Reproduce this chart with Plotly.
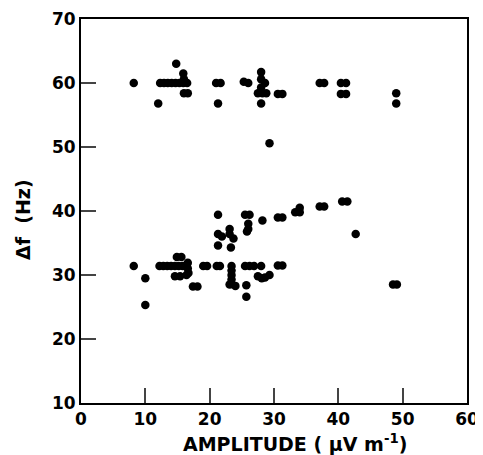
import plotly.graph_objects as go

# upper group, near 60 Hz
upper_amp = [8.2, 12.3, 12.9, 13.5, 14.1, 14.7, 15.3, 15.9, 16.5, 14.8, 15.9, 16.0,
             16.0, 16.6, 12.0, 21.0, 21.7, 21.3, 25.3, 26.0, 28.0, 28.0, 28.6, 27.5,
             28.2, 28.8, 28.0, 28.0, 30.6, 31.3, 29.3, 37.1, 37.8, 40.4, 41.2, 40.4,
             41.2, 49.0, 49.0]
upper_df = [60.0, 60.0, 60.0, 60.0, 60.0, 60.0, 60.0, 60.0, 60.0, 63.0, 61.5, 60.6,
            58.4, 58.4, 56.8, 60.0, 60.0, 56.8, 60.2, 60.0, 61.7, 60.6, 60.0, 58.4,
            58.4, 58.4, 59.3, 56.8, 58.3, 58.3, 50.6, 60.0, 60.0, 60.0, 60.0, 58.3,
            58.3, 58.4, 56.8]

# lower group, 25-42 Hz
lower_amp = [8.2, 10.0, 10.0, 12.2, 12.8, 13.4, 14.0, 14.6, 15.2, 15.8, 16.4, 14.9,
             15.6, 16.6, 16.6, 16.7, 14.6, 15.4, 16.4, 17.4, 18.1, 19.0, 19.6, 21.1,
             21.6, 21.3, 21.3, 21.9, 21.3, 23.1, 23.1, 23.7, 23.3, 23.4, 23.4, 23.4,
             23.4, 23.4, 24.0, 23.1, 25.5, 26.2, 26.9, 25.7, 25.7, 25.5, 26.2, 26.0,
             26.0, 25.8, 28.2, 28.0, 27.5, 28.1, 28.6, 29.3, 30.6, 31.3, 30.6, 31.3,
             33.3, 34.0, 34.0, 37.1, 37.8, 40.6, 41.4, 42.7, 48.5, 49.1]
lower_df = [31.4, 29.5, 25.3, 31.4, 31.4, 31.4, 31.4, 31.4, 31.4, 31.4, 31.4, 32.8,
            32.8, 31.9, 31.0, 30.3, 29.8, 29.8, 30.0, 28.2, 28.2, 31.4, 31.4, 31.4,
            31.4, 34.6, 36.4, 36.0, 39.4, 37.2, 36.4, 35.7, 34.3, 31.4, 30.7, 30.0,
            29.3, 28.6, 28.3, 28.5, 31.4, 31.4, 31.4, 28.4, 26.6, 39.4, 39.4, 38.0,
            37.2, 36.8, 38.5, 31.4, 29.8, 29.5, 29.6, 30.0, 31.5, 31.5, 39.0, 39.0,
            39.8, 39.8, 40.5, 40.7, 40.7, 41.5, 41.5, 36.4, 28.5, 28.5]

x_ticks = [0, 10, 20, 30, 40, 50, 60]
y_ticks = [10, 20, 30, 40, 50, 60, 70]

fig = go.Figure()
for xs, ys in [(upper_amp, upper_df), (lower_amp, lower_df)]:
    fig.add_trace(go.Scatter(x=xs, y=ys, mode="markers",
                             marker=dict(color="black", size=8.5, line=dict(width=0)),
                             showlegend=False))

tick_font = dict(family="DejaVu Sans", size=17, color="black", weight="bold")
title_font = dict(family="DejaVu Sans", size=19, color="black", weight="bold")
fig.update_xaxes(range=[0, 60], tickvals=x_ticks, ticks="inside", ticklen=15, tickwidth=2,
                 showline=True, linewidth=2, linecolor="black", mirror=True,
                 showgrid=False, zeroline=False, tickfont=tick_font, automargin=False)
fig.update_yaxes(range=[10, 70], tickvals=y_ticks, ticks="inside", ticklen=15, tickwidth=2,
                 showline=True, linewidth=2, linecolor="black", mirror=True,
                 showgrid=False, zeroline=False, tickfont=tick_font, automargin=False)

fig.add_annotation(text="AMPLITUDE ( μV m<sup>-1</sup>)", xref="paper", yref="paper",
                   x=0.554, y=-0.104, xanchor="center", yanchor="middle", showarrow=False,
                   font=title_font)
fig.add_annotation(text="Δf  (Hz)", xref="paper", yref="paper",
                   x=-0.15, y=0.477, xanchor="center", yanchor="middle", textangle=-90,
                   showarrow=False, font=title_font)

# the page adds an 8px body margin, so the figure is 8px smaller than the window
fig.update_layout(width=475, height=447, plot_bgcolor="white", paper_bgcolor="white",
                  margin=dict(l=73, r=16, t=11, b=52))

fig.write_html("out.html")
